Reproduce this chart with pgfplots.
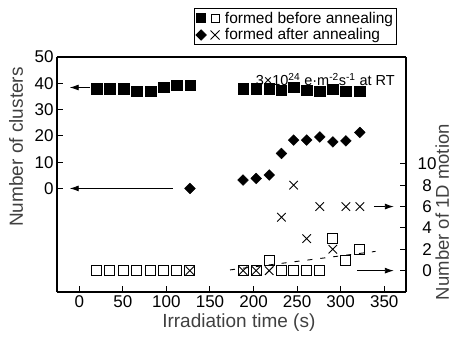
\documentclass[border=0pt]{standalone}
\usepackage{fontspec}
\setmainfont{Liberation Sans}
\usepackage{pgfplots}
\pgfplotsset{compat=1.18}
\usetikzlibrary{arrows.meta}
\begin{document}
\begin{tikzpicture}
\useasboundingbox (0,0) rectangle (454pt,341pt);
\begin{axis}[
  at={(57pt,49pt)}, anchor=south west,
  scale only axis, width=349pt, height=235pt,
  xmin=-25.6, xmax=375, ymin=-39.4, ymax=50,
  xtick={0,50,...,350}, ytick={0,10,...,50},
  xtick pos=bottom, ytick pos=left,
  tick align=inside, major tick length=6pt,
  separate axis lines,
  axis line style={line width=1.5pt},
  tick style={line width=1pt, black},
  ticklabel style={font=\fontsize{17}{17}\selectfont},
  /pgf/number format/assume math mode=true,
  xlabel={Irradiation time (s)},
  ylabel={Number of clusters},
  label style={font=\fontsize{19}{19}\selectfont, text=black!75},
  xlabel style={at={(rel axis cs:0.521,-0.128)}, anchor=center},
  ylabel style={at={(rel axis cs:-0.1175,0.617)}, anchor=center},
  legend style={at={(rel axis cs:0.974,1.2085)}, anchor=north east,
    font=\fontsize{15.5}{15.5}\selectfont, draw=black, line width=0.8pt,
    inner sep=1.5pt, row sep=0pt, cells={anchor=west},
    /tikz/every odd column/.append style={column sep=3pt}},
  legend image code/.code={},
  clip=false,
]
% legend entries
\addlegendimage{legend image code/.code={
  \fill[black] (0pt,-4.6pt) rectangle (9.2pt,4.6pt);
  \draw[black,line width=0.9pt] (15pt,-3.8pt) rectangle (22.6pt,3.8pt);}}
\addlegendentry{formed before annealing}
\addlegendimage{legend image code/.code={
  \fill[black,rotate around={45:(4.6pt,0pt)}] (1pt,-3.6pt) rectangle (8.2pt,3.6pt);
  \draw[black,line width=0.9pt] (14pt,-4.5pt) -- (23pt,4.5pt) (14pt,4.5pt) -- (23pt,-4.5pt);}}
\addlegendentry{formed after annealing}

% filled squares: formed before annealing (clusters)
\addplot[only marks, mark=square*, mark size=5.2pt, black, forget plot] coordinates {
 (20,38.0) (35,38.0) (51,38.0) (66,37.1) (82,37.1) (97,38.4) (112,39.2) (127,39.2)
 (188,38.0) (203,38.0) (218,38.0) (232,37.4) (246,38.4) (261,37.4) (276,36.9) (291,37.7) (306,37.1) (322,37.1)
};
% diamonds: formed after annealing (clusters)
\addplot[only marks, mark=square*, mark size=3.8pt, mark options={rotate=45}, black, forget plot] coordinates {
 (127,0) (188,3.2) (203,3.8) (218,5.1) (232,13.3) (246,18.4) (261,18.4) (276,19.6) (291,17.7) (306,18.1) (322,21.3)
};
% arrows to left axis
\addplot[black, line width=0.9pt, -{Latex[length=9pt,width=6pt]}, forget plot] coordinates {(12,38.4) (-11,38.4)};
\addplot[black, line width=0.9pt, -{Latex[length=9pt,width=6pt]}, forget plot] coordinates {(107,0) (-11,0)};
\node[anchor=east, font=\fontsize{14.5}{14.5}\selectfont] at (rel axis cs:0.978,0.905)
  {3×10\textsuperscript{24} e·m\textsuperscript{-2}s\textsuperscript{-1} at RT};
\end{axis}

\begin{axis}[
  at={(57pt,49pt)}, anchor=south west,
  scale only axis, width=349pt, height=235pt,
  xmin=-25.6, xmax=375, ymin=-2, ymax=20,
  axis x line=none, axis y line*=right,
  ytick={0,2,...,10},
  tick align=inside, major tick length=6pt,
  axis line style={line width=1.5pt},
  tick style={line width=1pt, black},
  yticklabel style={font=\fontsize{17}{17}\selectfont, anchor=center, xshift=21pt},
  /pgf/number format/assume math mode=true,
  ylabel={Number of 1D motion},
  ylabel style={at={(rel axis cs:1.104,0.34)}, anchor=center, rotate=0,
    font=\fontsize{18.5}{18.5}\selectfont, text=black!75},
  clip=false,
]
% open squares
\addplot[only marks, mark=square, mark size=5pt, mark options={line width=0.9pt}, black] coordinates {
 (20,0) (35,0) (51,0) (66,0) (82,0) (97,0) (112,0) (127,0)
 (188,0) (203,0) (218,1) (232,0) (246,0) (261,0) (276,0) (291,3) (306,1) (322,2)
};
% crosses
\addplot[only marks, mark=x, mark size=6pt, mark options={line width=0.9pt}, black] coordinates {
 (127,0) (188,0) (203,0) (218,0) (232,5) (246,8) (261,3) (276,6) (291,2) (306,6) (322,6)
};
% dashed trend
\addplot[black, line width=0.9pt, dash pattern=on 5pt off 8pt] coordinates {(173,0.07) (340,1.8)};
% arrows to right axis
\addplot[black, line width=0.9pt, -{Latex[length=9pt,width=6pt]}] coordinates {(338,6) (361,6)};
\addplot[black, line width=0.9pt, -{Latex[length=9pt,width=6pt]}] coordinates {(319,0) (361,0)};
\end{axis}
\end{tikzpicture}
\end{document}
